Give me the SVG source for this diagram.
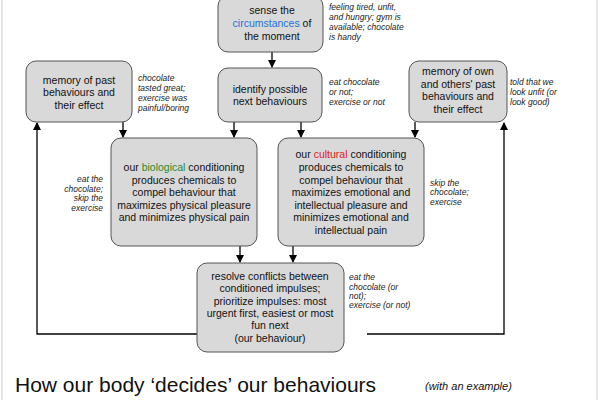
<svg xmlns="http://www.w3.org/2000/svg" width="600" height="400" viewBox="0 0 600 400">
<defs>
<marker id="ah" markerWidth="8" markerHeight="8" refX="7" refY="4" orient="auto" markerUnits="userSpaceOnUse"><path d="M0,0 L8,4 L0,8 z" fill="#000"/></marker>
<style>
.box{fill:#d9d9d9;stroke:#555;stroke-width:1}
.t{font-family:"Liberation Sans",Arial,sans-serif;font-size:10.5px;fill:#111;text-anchor:middle}
.n{font-family:"Liberation Sans",Arial,sans-serif;font-size:8.5px;font-style:italic;fill:#222}
.c{fill:none;stroke:#000;stroke-width:1.3}
</style>
</defs>
<rect width="600" height="400" fill="#fff"/>
<rect x="2" y="-5" width="595" height="420" fill="none" stroke="#ccc"/>
<g id="connectors">
<path class="c" d="M272,52 V67" marker-end="url(#ah)"/>
<path class="c" d="M123,122 V137" marker-end="url(#ah)"/>
<path class="c" d="M234,122 V137" marker-end="url(#ah)"/>
<path class="c" d="M301,122 V137" marker-end="url(#ah)"/>
<path class="c" d="M415,122 V137" marker-end="url(#ah)"/>
<path class="c" d="M240,246 V262" marker-end="url(#ah)"/>
<path class="c" d="M293,246 V262" marker-end="url(#ah)"/>
<path class="c" d="M197,334 H37 V123" marker-end="url(#ah)"/>
<path class="c" d="M367,334 H504 V123" marker-end="url(#ah)"/>
</g>
<g id="sense"><rect class="box" x="218" y="-4" width="105" height="56" rx="10"/>
<text class="t" x="272" y="14">sense the</text>
<text class="t" x="272" y="27"><tspan fill="#1a73d9">circumstances</tspan> of</text>
<text class="t" x="272" y="40">the moment</text></g>
<g id="memPast"><rect class="box" x="26" y="61" width="106" height="61" rx="10"/>
<text class="t" x="79" y="84">memory of past</text>
<text class="t" x="79" y="96">behaviours and</text>
<text class="t" x="79" y="109">their effect</text></g>
<g id="identify"><rect class="box" x="218" y="68" width="104" height="54" rx="10"/>
<text class="t" x="270" y="93">identify possible</text>
<text class="t" x="270" y="105">next behaviours</text></g>
<g id="memOthers"><rect class="box" x="409" y="61" width="98" height="61" rx="10"/>
<text class="t" x="458" y="75">memory of own</text>
<text class="t" x="458" y="88">and others' past</text>
<text class="t" x="458" y="100">behaviours and</text>
<text class="t" x="458" y="113">their effect</text></g>
<g id="bio"><rect class="box" x="111" y="138" width="146" height="108" rx="10"/>
<text class="t" x="184" y="171">our <tspan fill="#2a8a2a">biological</tspan> conditioning</text>
<text class="t" x="184" y="184">produces chemicals to</text>
<text class="t" x="184" y="196">compel behaviour that</text>
<text class="t" x="184" y="209">maximizes physical pleasure</text>
<text class="t" x="184" y="221">and minimizes physical pain</text></g>
<g id="cultural"><rect class="box" x="278" y="138" width="146" height="108" rx="10"/>
<text class="t" x="351" y="158">our <tspan fill="#e02020">cultural</tspan> conditioning</text>
<text class="t" x="351" y="171">produces chemicals to</text>
<text class="t" x="351" y="184">compel behaviour that</text>
<text class="t" x="351" y="196">maximizes emotional and</text>
<text class="t" x="351" y="209">intellectual pleasure and</text>
<text class="t" x="351" y="221">minimizes emotional and</text>
<text class="t" x="351" y="234">intellectual pain</text></g>
<g id="resolve"><rect class="box" x="197" y="263" width="147" height="89" rx="10"/>
<text class="t" x="270" y="280">resolve conflicts between</text>
<text class="t" x="270" y="292">conditioned impulses;</text>
<text class="t" x="270" y="305">prioritize impulses: most</text>
<text class="t" x="270" y="317">urgent first, easiest or most</text>
<text class="t" x="270" y="329">fun next</text>
<text class="t" x="270" y="342" fill="#c0185a">(our behaviour)</text></g>
<g id="notes">
<text class="n" x="329" y="10">feeling tired, unfit,</text>
<text class="n" x="329" y="20">and hungry; gym is</text>
<text class="n" x="329" y="30">available; chocolate</text>
<text class="n" x="329" y="40">is handy</text>
<text class="n" x="138" y="81">chocolate</text>
<text class="n" x="138" y="91">tasted great;</text>
<text class="n" x="138" y="101">exercise was</text>
<text class="n" x="138" y="111">painful/boring</text>
<text class="n" x="329" y="85">eat chocolate</text>
<text class="n" x="329" y="95">or not;</text>
<text class="n" x="329" y="105">exercise or not</text>
<text class="n" x="510" y="85">told that we</text>
<text class="n" x="510" y="95">look unfit (or</text>
<text class="n" x="510" y="105">look good)</text>
<g text-anchor="end"><text class="n" x="103" y="182">eat the</text>
<text class="n" x="103" y="192">chocolate;</text>
<text class="n" x="103" y="201">skip the</text>
<text class="n" x="103" y="211">exercise</text></g>
<text class="n" x="430" y="186">skip the</text>
<text class="n" x="430" y="195">chocolate;</text>
<text class="n" x="430" y="205">exercise</text>
<text class="n" x="349" y="280">eat the</text>
<text class="n" x="349" y="290">chocolate (or</text>
<text class="n" x="349" y="299">not);</text>
<text class="n" x="349" y="308">exercise (or not)</text>
</g>
<text x="15" y="392" font-family="Liberation Sans,Arial,sans-serif" font-size="21" fill="#111">How our body ‘decides’ our behaviours</text>
<text x="425" y="390" font-family="Liberation Sans,Arial,sans-serif" font-size="11" font-style="italic" fill="#111">(with an example)</text>
</svg>
